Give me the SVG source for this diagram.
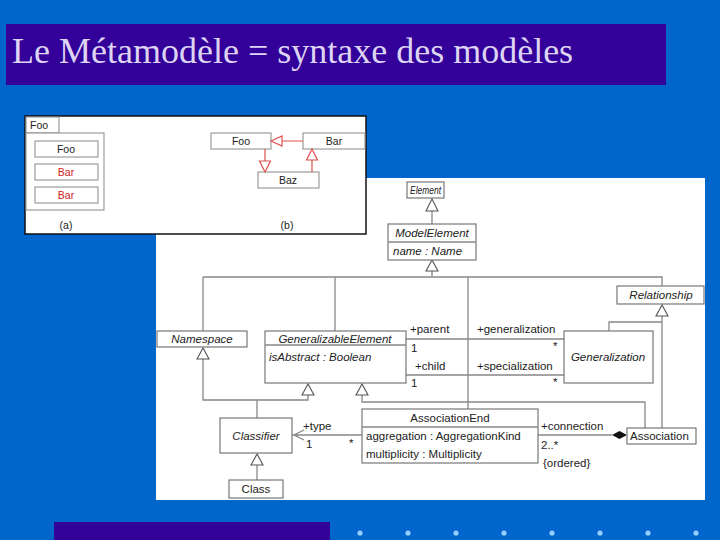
<svg xmlns="http://www.w3.org/2000/svg" width="720" height="540" viewBox="0 0 720 540">
<style>
.box{fill:#fff;stroke:#777;stroke-width:1.2}
.ln{fill:none;stroke:#888;stroke-width:1.3}
.tri{fill:#fff;stroke:#555;stroke-width:1.1}
.t{font-family:"Liberation Sans",Arial,sans-serif;font-size:11.5px;fill:#222}
.i{font-style:italic}
.c{text-anchor:middle}
.sm{font-family:"Liberation Sans",Arial,sans-serif;font-size:10.5px;fill:#222}
.red{fill:#d02020}
.rl{fill:none;stroke:#e05050;stroke-width:1.2}
.rt{fill:#fff;stroke:#e05050;stroke-width:1.2}
.g{fill:#fff;stroke:#888;stroke-width:1}
.dot{fill:#99ccff}
</style>
<rect width="720" height="540" fill="#0066cc"/>
<rect x="6" y="24" width="660" height="61" fill="#330099"/>
<text x="12" y="63" font-family="Liberation Serif,Times New Roman,serif" font-size="36" fill="#ddd4f4">Le Métamodèle = syntaxe des modèles</text>
<rect x="54" y="522" width="276" height="18" fill="#330099"/>
<g>
<circle class="dot" cx="360" cy="533" r="2.6"/><circle class="dot" cx="408" cy="533" r="2.6"/><circle class="dot" cx="456" cy="533" r="2.6"/><circle class="dot" cx="504" cy="533" r="2.6"/><circle class="dot" cx="552" cy="533" r="2.6"/><circle class="dot" cx="600" cy="533" r="2.6"/><circle class="dot" cx="648" cy="533" r="2.6"/><circle class="dot" cx="696" cy="533" r="2.6"/>
</g>
<rect x="156" y="178" width="549" height="322" fill="#fff"/>
<g id="connectors">
<path class="ln" d="M432 211V224"/>
<path class="ln" d="M432 271V277M203 277H662V286M203 277V331M335 277V331M468 277V409"/>
<path class="ln" d="M662 316V428M662 322H609V331"/>
<path class="ln" d="M203 359V400H308V395M257 400V418"/>
<path class="ln" d="M362 395V402H645V428"/>
<path class="ln" d="M406 339H564M406 375H564"/>
<path class="ln" d="M292 435H362M304 430L294 435L304 440"/>
<path class="ln" d="M538 435H612"/>
<path d="M612 435L619.5 431L627 435L619.5 439Z" fill="#111"/>
<path class="ln" d="M257 465V480"/>
<polygon class="tri" points="432,199 426,211 438,211"/>
<polygon class="tri" points="432,260 426,271 438,271"/>
<polygon class="tri" points="662,305 656,316 668,316"/>
<polygon class="tri" points="203,348 197,359 209,359"/>
<polygon class="tri" points="308,384 302,395 314,395"/>
<polygon class="tri" points="362,384 356,395 368,395"/>
<polygon class="tri" points="257,454 251,465 263,465"/>
</g>
<g id="Element"><rect class="box" x="407" y="182" width="37" height="16"/><text class="t i" x="410" y="194" textLength="31" lengthAdjust="spacingAndGlyphs">Element</text></g>
<g id="ModelElement"><rect class="box" x="388" y="224" width="88" height="36"/><path class="ln" d="M388 242H476"/><text class="t i c" x="432" y="237">ModelElement</text><text class="t i" x="393" y="255">name : Name</text></g>
<g id="Relationship"><rect class="box" x="617" y="286" width="87" height="18"/><text class="t i c" x="661" y="299">Relationship</text></g>
<g id="Namespace"><rect class="box" x="157" y="331" width="90" height="16"/><text class="t i c" x="202" y="343">Namespace</text></g>
<g id="GeneralizableElement"><rect class="box" x="265" y="331" width="141" height="52"/><path class="ln" d="M265 345H406"/><text class="t i c" x="335" y="343">GeneralizableElement</text><text class="t i" x="269" y="361">isAbstract : Boolean</text></g>
<g id="Generalization"><rect class="box" x="564" y="331" width="89" height="52"/><text class="t i c" x="608" y="361">Generalization</text></g>
<g id="Classifier"><rect class="box" x="220" y="418" width="72" height="35"/><text class="t i c" x="256" y="440">Classifier</text></g>
<g id="Class"><rect class="box" x="229" y="480" width="54" height="18"/><text class="t c" x="256" y="493">Class</text></g>
<g id="AssociationEnd"><rect class="box" x="362" y="409" width="176" height="54"/><path class="ln" d="M362 427H538"/><text class="t c" x="450" y="422">AssociationEnd</text><text class="t" x="366" y="440">aggregation : AggregationKind</text><text class="t" x="366" y="458">multiplicity : Multiplicity</text></g>
<g id="Association"><rect class="box" x="627" y="428" width="69" height="16"/><text class="t" x="630" y="440">Association</text></g>
<g id="labels">
<text class="t" x="410" y="333">+parent</text><text class="t" x="411" y="352">1</text>
<text class="t" x="415" y="370">+child</text><text class="t" x="411" y="387">1</text>
<text class="t" x="477" y="333">+generalization</text><text class="t" x="553" y="350">*</text>
<text class="t" x="477" y="370">+specialization</text><text class="t" x="553" y="386">*</text>
<text class="t" x="303" y="430">+type</text><text class="t" x="306" y="448">1</text><text class="t" x="349" y="447">*</text>
<text class="t" x="541" y="430">+connection</text><text class="t" x="541" y="449">2..*</text><text class="t" x="543" y="467">{ordered}</text>
</g>
<g id="inset">
<rect x="25" y="116" width="341" height="118" fill="#fff" stroke="#111" stroke-width="1.5"/>
<rect class="g" x="26" y="117" width="33" height="16"/>
<text class="sm" x="30" y="129">Foo</text>
<rect class="g" x="26" y="133" width="78" height="77"/>
<rect class="g" x="35" y="141" width="63" height="16"/><text class="sm c" x="66" y="153">Foo</text>
<rect class="g" x="35" y="164" width="63" height="16"/><text class="sm c red" x="66" y="176">Bar</text>
<rect class="g" x="35" y="187" width="63" height="16"/><text class="sm c red" x="66" y="199">Bar</text>
<text class="sm c" x="66" y="229">(a)</text>
<rect class="g" x="211" y="133" width="60" height="16"/><text class="sm c" x="241" y="145">Foo</text>
<rect class="g" x="303" y="133" width="62" height="16"/><text class="sm c" x="334" y="145">Bar</text>
<rect class="g" x="258" y="172" width="61" height="16"/><text class="sm c" x="288" y="184">Baz</text>
<path class="rl" d="M303 141H282M265 149V161M312 172V160"/>
<polygon class="rt" points="271,141 282,136 282,146"/>
<polygon class="rt" points="265,172 259.5,161 270.5,161"/>
<polygon class="rt" points="312,149 306.5,160 317.5,160"/>
<text class="sm c" x="287" y="229">(b)</text>
</g>
</svg>
